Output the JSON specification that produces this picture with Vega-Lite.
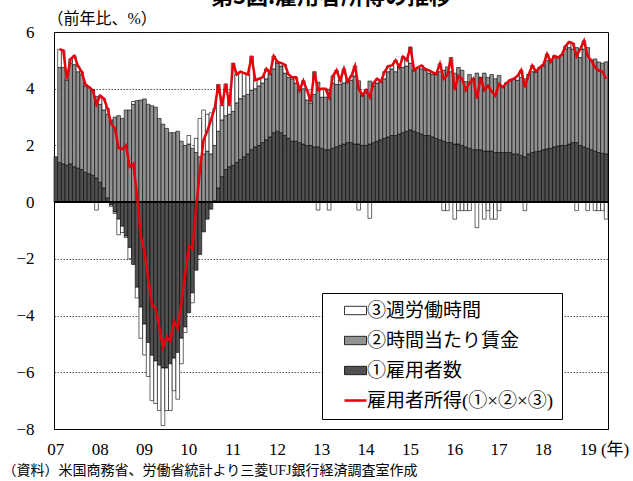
{
  "$schema": "https://vega.github.io/schema/vega-lite/v6.json",
  "width": 554,
  "height": 397,
  "autosize": {"type": "none"},
  "padding": {"left": 54, "top": 32, "right": 25, "bottom": 52},
  "background": "white",
  "title": {"text": "第3図:雇用者所得の推移", "fontSize": 22, "font": "Noto Sans CJK JP", "fontWeight": "bold", "anchor": "middle", "offset": 1, "color": "black"},
  "config": {"view": {"stroke": "black", "strokeWidth": 1}, "font": "Liberation Serif, Noto Sans CJK JP"},
  "data": {"values": [
    {"d":"2007-01","emp":1.6,"pay":null,"time":null,"total":null},
    {"d":"2007-02","emp":1.4,"pay":3.35,"time":0.64,"total":5.39},
    {"d":"2007-03","emp":1.35,"pay":3.4,"time":0.6,"total":5.35},
    {"d":"2007-04","emp":1.3,"pay":3.0,"time":0.04,"total":4.34},
    {"d":"2007-05","emp":1.35,"pay":3.55,"time":0.15,"total":5.05},
    {"d":"2007-06","emp":1.25,"pay":3.6,"time":0.31,"total":5.16},
    {"d":"2007-07","emp":1.2,"pay":3.4,"time":0.2,"total":4.8},
    {"d":"2007-08","emp":1.15,"pay":3.35,"time":0.1,"total":4.6},
    {"d":"2007-09","emp":1.05,"pay":3.05,"time":0.05,"total":4.15},
    {"d":"2007-10","emp":1.0,"pay":3.05,"time":0.0,"total":4.05},
    {"d":"2007-11","emp":0.95,"pay":3.0,"time":0.0,"total":3.95},
    {"d":"2007-12","emp":0.85,"pay":2.88,"time":-0.28,"total":3.45},
    {"d":"2008-01","emp":0.7,"pay":2.75,"time":0.3,"total":3.75},
    {"d":"2008-02","emp":0.5,"pay":2.75,"time":0.4,"total":3.65},
    {"d":"2008-03","emp":0.15,"pay":2.95,"time":0.2,"total":3.3},
    {"d":"2008-04","emp":-0.1,"pay":2.9,"time":-0.05,"total":2.75},
    {"d":"2008-05","emp":-0.35,"pay":3.0,"time":-0.05,"total":2.6},
    {"d":"2008-06","emp":-0.6,"pay":3.05,"time":-0.55,"total":1.9},
    {"d":"2008-07","emp":-0.85,"pay":2.95,"time":-0.22,"total":1.88},
    {"d":"2008-08","emp":-1.2,"pay":3.25,"time":-0.05,"total":2.0},
    {"d":"2008-09","emp":-1.6,"pay":3.25,"time":-0.4,"total":1.25},
    {"d":"2008-10","emp":-2.2,"pay":3.45,"time":0.1,"total":1.35},
    {"d":"2008-11","emp":-3.0,"pay":3.58,"time":-0.38,"total":0.2},
    {"d":"2008-12","emp":-3.7,"pay":3.6,"time":-1.1,"total":-1.2},
    {"d":"2009-01","emp":-4.3,"pay":3.64,"time":-1.09,"total":-1.75},
    {"d":"2009-02","emp":-4.95,"pay":3.45,"time":-1.2,"total":-2.7},
    {"d":"2009-03","emp":-5.4,"pay":3.4,"time":-1.6,"total":-3.6},
    {"d":"2009-04","emp":-5.6,"pay":3.35,"time":-1.5,"total":-3.75},
    {"d":"2009-05","emp":-5.75,"pay":2.95,"time":-1.6,"total":-4.4},
    {"d":"2009-06","emp":-5.85,"pay":2.75,"time":-2.03,"total":-5.13},
    {"d":"2009-07","emp":-5.85,"pay":2.6,"time":-1.5,"total":-4.75},
    {"d":"2009-08","emp":-5.7,"pay":2.45,"time":-1.65,"total":-4.9},
    {"d":"2009-09","emp":-5.5,"pay":2.45,"time":-1.15,"total":-4.2},
    {"d":"2009-10","emp":-5.3,"pay":2.5,"time":-1.65,"total":-4.45},
    {"d":"2009-11","emp":-4.8,"pay":2.15,"time":-0.9,"total":-3.55},
    {"d":"2009-12","emp":-4.4,"pay":2.0,"time":-0.2,"total":-2.6},
    {"d":"2010-01","emp":-3.9,"pay":2.05,"time":0.3,"total":-1.55},
    {"d":"2010-02","emp":-3.2,"pay":1.9,"time":-0.35,"total":-1.65},
    {"d":"2010-03","emp":-2.4,"pay":1.75,"time":0.5,"total":-0.15},
    {"d":"2010-04","emp":-1.85,"pay":1.6,"time":1.35,"total":1.1},
    {"d":"2010-05","emp":-1.05,"pay":1.7,"time":1.55,"total":2.2},
    {"d":"2010-06","emp":-0.6,"pay":1.8,"time":1.3,"total":2.5},
    {"d":"2010-07","emp":-0.25,"pay":1.7,"time":1.45,"total":2.9},
    {"d":"2010-08","emp":0.05,"pay":1.95,"time":1.3,"total":3.3},
    {"d":"2010-09","emp":0.5,"pay":2.0,"time":1.65,"total":4.15},
    {"d":"2010-10","emp":0.9,"pay":2.0,"time":0.5,"total":3.4},
    {"d":"2010-11","emp":1.15,"pay":1.9,"time":1.12,"total":4.17},
    {"d":"2010-12","emp":1.25,"pay":1.85,"time":0.3,"total":3.4},
    {"d":"2011-01","emp":1.3,"pay":1.9,"time":1.7,"total":4.9},
    {"d":"2011-02","emp":1.4,"pay":2.1,"time":1.0,"total":4.5},
    {"d":"2011-03","emp":1.5,"pay":2.15,"time":0.95,"total":4.6},
    {"d":"2011-04","emp":1.6,"pay":2.15,"time":0.8,"total":4.55},
    {"d":"2011-05","emp":1.7,"pay":2.1,"time":0.7,"total":4.5},
    {"d":"2011-06","emp":1.85,"pay":2.1,"time":1.2,"total":5.15},
    {"d":"2011-07","emp":1.95,"pay":2.05,"time":0.3,"total":4.3},
    {"d":"2011-08","emp":2.0,"pay":2.1,"time":0.25,"total":4.35},
    {"d":"2011-09","emp":2.1,"pay":2.1,"time":0.2,"total":4.4},
    {"d":"2011-10","emp":2.2,"pay":2.15,"time":0.35,"total":4.7},
    {"d":"2011-11","emp":2.3,"pay":2.2,"time":0.05,"total":4.55},
    {"d":"2011-12","emp":2.45,"pay":2.25,"time":0.45,"total":5.15},
    {"d":"2012-01","emp":2.5,"pay":2.4,"time":0.05,"total":4.95},
    {"d":"2012-02","emp":2.45,"pay":2.35,"time":0.1,"total":4.9},
    {"d":"2012-03","emp":2.35,"pay":2.2,"time":0.3,"total":4.85},
    {"d":"2012-04","emp":2.25,"pay":2.15,"time":0.1,"total":4.5},
    {"d":"2012-05","emp":2.15,"pay":2.2,"time":0.05,"total":4.4},
    {"d":"2012-06","emp":2.15,"pay":2.05,"time":0.2,"total":4.4},
    {"d":"2012-07","emp":2.1,"pay":1.85,"time":0.0,"total":3.95},
    {"d":"2012-08","emp":2.05,"pay":1.95,"time":0.28,"total":4.28},
    {"d":"2012-09","emp":2.0,"pay":1.6,"time":0.35,"total":3.95},
    {"d":"2012-10","emp":2.0,"pay":1.5,"time":0.05,"total":3.55},
    {"d":"2012-11","emp":1.95,"pay":1.85,"time":0.8,"total":4.6},
    {"d":"2012-12","emp":1.95,"pay":2.28,"time":-0.28,"total":3.95},
    {"d":"2013-01","emp":1.9,"pay":1.8,"time":0.3,"total":4.0},
    {"d":"2013-02","emp":1.85,"pay":1.85,"time":0.3,"total":4.0},
    {"d":"2013-03","emp":1.85,"pay":2.13,"time":-0.28,"total":3.7},
    {"d":"2013-04","emp":1.9,"pay":2.3,"time":0.25,"total":4.45},
    {"d":"2013-05","emp":1.95,"pay":2.2,"time":0.5,"total":4.65},
    {"d":"2013-06","emp":2.0,"pay":2.15,"time":0.15,"total":4.3},
    {"d":"2013-07","emp":2.05,"pay":2.15,"time":0.5,"total":4.7},
    {"d":"2013-08","emp":2.1,"pay":2.15,"time":0.0,"total":4.25},
    {"d":"2013-09","emp":2.1,"pay":2.2,"time":0.15,"total":4.45},
    {"d":"2013-10","emp":2.05,"pay":2.4,"time":0.35,"total":4.8},
    {"d":"2013-11","emp":2.05,"pay":2.23,"time":-0.28,"total":4.0},
    {"d":"2013-12","emp":2.0,"pay":1.75,"time":0.02,"total":3.77},
    {"d":"2014-01","emp":2.0,"pay":1.85,"time":0.1,"total":3.95},
    {"d":"2014-02","emp":2.05,"pay":2.22,"time":-0.57,"total":3.7},
    {"d":"2014-03","emp":2.1,"pay":2.0,"time":0.1,"total":4.2},
    {"d":"2014-04","emp":2.15,"pay":2.05,"time":0.15,"total":4.35},
    {"d":"2014-05","emp":2.2,"pay":2.05,"time":0.0,"total":4.25},
    {"d":"2014-06","emp":2.25,"pay":2.1,"time":0.25,"total":4.6},
    {"d":"2014-07","emp":2.3,"pay":2.3,"time":0.2,"total":4.8},
    {"d":"2014-08","emp":2.35,"pay":2.35,"time":0.12,"total":4.82},
    {"d":"2014-09","emp":2.35,"pay":2.25,"time":0.4,"total":5.0},
    {"d":"2014-10","emp":2.4,"pay":2.35,"time":0.01,"total":4.76},
    {"d":"2014-11","emp":2.45,"pay":2.3,"time":0.38,"total":5.13},
    {"d":"2014-12","emp":2.5,"pay":2.3,"time":0.2,"total":5.0},
    {"d":"2015-01","emp":2.55,"pay":2.35,"time":0.57,"total":5.47},
    {"d":"2015-02","emp":2.5,"pay":2.15,"time":0.0,"total":4.65},
    {"d":"2015-03","emp":2.45,"pay":2.3,"time":0.0,"total":4.75},
    {"d":"2015-04","emp":2.4,"pay":2.3,"time":0.12,"total":4.82},
    {"d":"2015-05","emp":2.35,"pay":2.3,"time":0.05,"total":4.7},
    {"d":"2015-06","emp":2.35,"pay":2.2,"time":0.1,"total":4.65},
    {"d":"2015-07","emp":2.3,"pay":2.2,"time":0.08,"total":4.58},
    {"d":"2015-08","emp":2.25,"pay":2.25,"time":0.02,"total":4.52},
    {"d":"2015-09","emp":2.2,"pay":2.4,"time":0.28,"total":4.88},
    {"d":"2015-10","emp":2.15,"pay":2.5,"time":-0.3,"total":4.35},
    {"d":"2015-11","emp":2.1,"pay":2.67,"time":-0.3,"total":4.47},
    {"d":"2015-12","emp":2.1,"pay":2.5,"time":0.5,"total":5.1},
    {"d":"2016-01","emp":2.05,"pay":2.5,"time":-0.6,"total":3.95},
    {"d":"2016-02","emp":2.05,"pay":2.7,"time":-0.3,"total":4.45},
    {"d":"2016-03","emp":2.0,"pay":2.65,"time":-0.3,"total":4.35},
    {"d":"2016-04","emp":1.95,"pay":2.3,"time":-0.3,"total":3.95},
    {"d":"2016-05","emp":1.9,"pay":2.6,"time":-0.3,"total":4.2},
    {"d":"2016-06","emp":1.85,"pay":2.5,"time":0.0,"total":4.35},
    {"d":"2016-07","emp":1.85,"pay":2.7,"time":-0.9,"total":3.65},
    {"d":"2016-08","emp":1.85,"pay":2.55,"time":0.0,"total":4.4},
    {"d":"2016-09","emp":1.8,"pay":2.75,"time":-0.6,"total":3.95},
    {"d":"2016-10","emp":1.8,"pay":2.6,"time":-0.3,"total":4.1},
    {"d":"2016-11","emp":1.8,"pay":2.7,"time":-0.6,"total":3.9},
    {"d":"2016-12","emp":1.75,"pay":2.6,"time":-0.6,"total":3.75},
    {"d":"2017-01","emp":1.75,"pay":2.72,"time":-0.3,"total":4.17},
    {"d":"2017-02","emp":1.75,"pay":2.3,"time":0.0,"total":4.05},
    {"d":"2017-03","emp":1.75,"pay":2.45,"time":0.0,"total":4.2},
    {"d":"2017-04","emp":1.75,"pay":2.55,"time":0.0,"total":4.3},
    {"d":"2017-05","emp":1.7,"pay":2.65,"time":0.0,"total":4.35},
    {"d":"2017-06","emp":1.7,"pay":2.6,"time":0.15,"total":4.45},
    {"d":"2017-07","emp":1.65,"pay":2.75,"time":0.25,"total":4.65},
    {"d":"2017-08","emp":1.6,"pay":2.75,"time":-0.3,"total":4.05},
    {"d":"2017-09","emp":1.7,"pay":2.8,"time":0.0,"total":4.5},
    {"d":"2017-10","emp":1.75,"pay":2.85,"time":0.22,"total":4.82},
    {"d":"2017-11","emp":1.78,"pay":2.82,"time":0.0,"total":4.6},
    {"d":"2017-12","emp":1.8,"pay":2.95,"time":0.0,"total":4.75},
    {"d":"2018-01","emp":1.85,"pay":2.95,"time":0.05,"total":4.85},
    {"d":"2018-02","emp":1.88,"pay":3.12,"time":0.22,"total":5.22},
    {"d":"2018-03","emp":1.9,"pay":3.05,"time":0.0,"total":4.95},
    {"d":"2018-04","emp":1.95,"pay":3.2,"time":0.01,"total":5.16},
    {"d":"2018-05","emp":1.98,"pay":3.12,"time":0.0,"total":5.1},
    {"d":"2018-06","emp":2.0,"pay":3.2,"time":0.0,"total":5.2},
    {"d":"2018-07","emp":2.0,"pay":3.4,"time":0.1,"total":5.5},
    {"d":"2018-08","emp":2.05,"pay":3.4,"time":0.2,"total":5.65},
    {"d":"2018-09","emp":2.1,"pay":3.3,"time":0.2,"total":5.6},
    {"d":"2018-10","emp":2.1,"pay":3.35,"time":-0.3,"total":5.15},
    {"d":"2018-11","emp":2.0,"pay":3.1,"time":0.3,"total":5.4},
    {"d":"2018-12","emp":1.95,"pay":3.45,"time":0.29,"total":5.69},
    {"d":"2019-01","emp":1.9,"pay":3.55,"time":-0.3,"total":5.15},
    {"d":"2019-02","emp":1.85,"pay":3.15,"time":0.0,"total":5.0},
    {"d":"2019-03","emp":1.8,"pay":3.25,"time":-0.3,"total":4.75},
    {"d":"2019-04","emp":1.75,"pay":3.19,"time":-0.3,"total":4.64},
    {"d":"2019-05","emp":1.72,"pay":3.18,"time":-0.3,"total":4.6},
    {"d":"2019-06","emp":1.7,"pay":3.25,"time":-0.6,"total":4.35}
  ]},
  "layer": [
    {
      "transform": [{"fold": ["emp", "pay", "time"], "as": ["key", "val"]}],
      "mark": {"type": "bar", "stroke": "black", "strokeWidth": 0.6},
      "encoding": {
        "x": {
          "field": "d", "type": "ordinal",
          "scale": {"paddingInner": 0, "paddingOuter": 0},
          "axis": {
            "labelExpr": "substring(datum.value,5,7)=='01' ? (datum.value=='2019-01' ? '19 (年)' : substring(datum.value,2,4)) : ''",
            "labelAngle": 0, "ticks": false, "grid": false, "domainColor": "black", "domainWidth": 1,
            "labelFontSize": 17, "labelFont": "Liberation Serif, Noto Sans CJK JP", "labelColor": "black",
            "labelPadding": 12, "labelOverlap": false,
            "labelAlign": {"condition": {"test": "datum.value=='2019-01'", "value": "left"}, "value": "center"},
            "labelOffset": {"condition": {"test": "datum.value=='2019-01'", "value": -8}, "value": 0},
            "title": "（資料）米国商務省、労働省統計より三菱UFJ銀行経済調査室作成",
            "titleFont": "Liberation Serif, Noto Sans CJK JP", "titleFontSize": 14, "titleFontWeight": "normal", "titleColor": "black",
            "titleAnchor": "start", "titleAlign": "left", "titleBaseline": "middle", "titleX": -52, "titleY": 41
          }
        },
        "y": {
          "field": "val", "type": "quantitative", "stack": "zero",
          "scale": {"domain": [-8, 6], "nice": false, "zero": false},
          "axis": {
            "values": [-8, -6, -4, -2, 0, 2, 4, 6],
            "grid": true, "gridDash": [1.5, 1.5], "gridColor": "#222222", "gridWidth": 0.8,
            "ticks": false, "domainColor": "black", "labelPadding": 20,
            "labelFontSize": 17, "labelFont": "Liberation Serif", "labelColor": "black",
            "title": "（前年比、%）", "titleAngle": 0, "titleX": -7, "titleY": -14, "titleAlign": "left", "titleBaseline": "middle",
            "titleFont": "Liberation Serif, Noto Sans CJK JP", "titleFontSize": 16, "titleFontWeight": "normal", "titleColor": "black"
          }
        },
        "color": {
          "field": "key", "type": "nominal",
          "scale": {"domain": ["time", "pay", "emp", "total"], "range": ["#ffffff", "#929292", "#505050", "#e8000b"]},
          "legend": {
            "title": null, "orient": "none", "legendX": 268, "legendY": 261, "direction": "vertical",
            "labelExpr": "datum.value=='time' ? '③週労働時間' : datum.value=='pay' ? '②時間当たり賃金' : datum.value=='emp' ? '①雇用者数' : '雇用者所得(①×②×③)\u3000'",
            "labelFont": "Liberation Serif, Noto Sans CJK JP", "labelFontSize": 19, "labelColor": "black", "labelLimit": 400,
            "rowPadding": 10, "padding": 8, "strokeColor": "black", "fillColor": "white",
            "symbolSize": 484, "symbolOffset": 16, "labelOffset": 2,
            "symbolType": {"expr": "datum.value === 'total' ? 'stroke' : 'M-1,-0.38H1V0.38H-1Z'"},
            "symbolStrokeColor": {"expr": "datum.value === 'total' ? '#e8000b' : 'black'"},
            "symbolStrokeWidth": {"expr": "datum.value === 'total' ? 2.5 : 0.8"}
          }
        },
        "order": {"field": "key", "sort": "ascending"}
      }
    },
    {
      "mark": {"type": "rule", "color": "black", "strokeWidth": 1},
      "encoding": {"y": {"datum": 0}}
    },
    {
      "mark": {"type": "line", "color": "#e8000b", "strokeWidth": 2.5},
      "encoding": {
        "x": {"field": "d", "type": "ordinal"},
        "y": {"field": "total", "type": "quantitative"}
      }
    }
  ]
}
